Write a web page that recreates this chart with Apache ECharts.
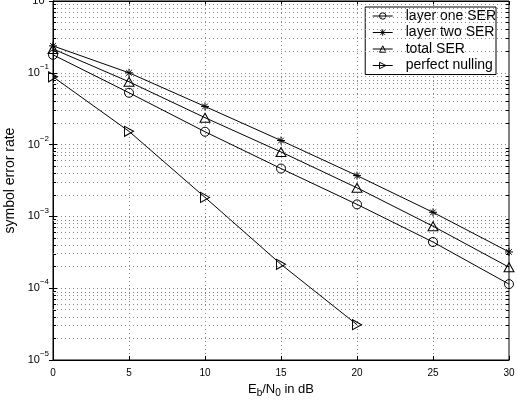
<!DOCTYPE html>
<html><head><meta charset="utf-8">
<script src="https://cdn.jsdelivr.net/npm/echarts@6/dist/echarts.min.js"></script>
<style>html,body{margin:0;padding:0;background:#fff}#c{width:518px;height:402px}</style>
</head><body><div id="c"></div>
<script>
const xs = [0, 5, 10, 15, 20, 25, 30];
const xsNulling = [0, 5, 10, 15, 20];
const layerOne = [0.178, 0.0527, 0.0151, 0.00464, 0.00147, 0.00044, 0.000114];
const layerTwo = [0.237, 0.100, 0.034, 0.0114, 0.0037, 0.00114, 0.00032];
const totalSER = [0.215, 0.075, 0.0237, 0.0079, 0.0025, 0.00073, 0.000196];
const nulling = [0.088, 0.0153, 0.00184, 0.000215, 0.000031];
const seriesNames = ['layer one SER', 'layer two SER', 'total SER', 'perfect nulling'];
const minorGrid = [];
for (let e = -5; e < 0; e++) for (let m = 2; m <= 9; m++) minorGrid.push(m * Math.pow(10, e));

const FONT = '"Liberation Sans", Arial, Helvetica, sans-serif';
const star = 'path://M0,-1 L0,1 M-1,0 L1,0 M-0.7,-0.7 L0.7,0.7 M-0.7,0.7 L0.7,-0.7';
const circle = 'path://M1,0 A1,1 0 1 1 -1,0 A1,1 0 1 1 1,0 Z';
const triUp = 'path://M0,-1 L0.87,0.5 L-0.87,0.5 Z';
const triRight = 'path://M1,0 L-0.5,-0.87 L-0.5,0.87 Z';
const dotted = {type: [1, 3], color: '#8a8a8a', width: 1};
const tickStyle = {color: '#000', width: 1};

function pairs(x, y) { return x.map((v, i) => [v, y[i]]); }
function mkSeries(name, x, y, symbol, extra) {
  return Object.assign({
    name, type: 'line', data: pairs(x, y), symbol, symbolSize: 9,
    lineStyle: {color: '#000', width: 1},
    itemStyle: {color: 'rgba(0,0,0,0)', borderColor: '#000', borderWidth: 1},
    emphasis: {disabled: true}, animation: false, z: 5
  }, extra || {});
}
const sup = {
  b: {fontSize: 11, fontFamily: FONT, color: '#000', lineHeight: 20, verticalAlign: 'middle'},
  s: {fontSize: 8, fontFamily: FONT, color: '#000', lineHeight: 8, verticalAlign: 'top'}
};

// minor grid lines and minor ticks (left & right), via a hidden linear log10 axis
const minorLines = minorGrid.map(v => ({yAxis: Math.log10(v)}));
const minorTicks = [];
minorGrid.forEach(v => {
  const l = Math.log10(v);
  minorTicks.push([{coord: [0, l]}, {coord: [0.2, l]}]);
  minorTicks.push([{coord: [29.8, l]}, {coord: [30, l]}]);
});

const chart = echarts.init(document.getElementById('c'), null, {renderer: 'canvas'});
chart.setOption({
  animation: false,
  backgroundColor: '#fff',
  grid: {left: 53, right: 9, top: 1, bottom: 42, show: true, borderColor: '#000', borderWidth: 1, containLabel: false, outerBoundsMode: 'none'},
  xAxis: [{
    type: 'value', min: 0, max: 30, interval: 5,
    axisLine: {show: true, onZero: false, lineStyle: {color: '#000', width: 1}},
    axisTick: {show: true, inside: true, length: 4, lineStyle: tickStyle},
    axisLabel: {fontSize: 10, fontFamily: FONT, color: '#000', margin: 8},
    splitLine: {show: true, lineStyle: dotted},
    name: '{n|E}{sub|b}{n|/N}{sub|0}{n| in dB}', nameLocation: 'middle', nameGap: 18,
    nameTextStyle: {rich: {n: {fontSize: 13, fontFamily: FONT, color: '#000'}, sub: {fontSize: 10, fontFamily: FONT, color: '#000', verticalAlign: 'top', padding: [8, 0, 0, 0]}}}
  }, {
    type: 'value', position: 'top', min: 0, max: 30, interval: 5,
    axisLine: {show: true, lineStyle: {color: '#000'}},
    axisTick: {show: true, inside: true, length: 4, lineStyle: tickStyle},
    axisLabel: {show: false}, splitLine: {show: false}
  }],
  yAxis: [{
    type: 'log', logBase: 10, min: 1e-5, max: 1,
    axisLine: {show: true, onZero: false, lineStyle: {color: '#000'}},
    axisTick: {show: true, inside: true, length: 4, lineStyle: tickStyle},
    axisLabel: {margin: 4, formatter: v => '{b|10}{s|' + String(Math.round(Math.log10(v))).replace('-', '\u2212') + '}', rich: sup},
    splitLine: {show: true, lineStyle: dotted},
    name: 'symbol error rate', nameLocation: 'middle', nameGap: 29,
    nameTextStyle: {fontSize: 14, fontFamily: FONT, color: '#000'}
  }, {
    type: 'log', logBase: 10, min: 1e-5, max: 1, position: 'right',
    axisLine: {show: true, lineStyle: {color: '#000'}},
    axisTick: {show: true, inside: true, length: 4, lineStyle: tickStyle},
    axisLabel: {show: false}, splitLine: {show: false}
  }, {
    type: 'value', min: -5, max: 0, show: false
  }],
  legend: {
    data: seriesNames, orient: 'vertical', right: 22, top: 7,
    backgroundColor: '#fff', borderColor: '#000', borderWidth: 1,
    padding: [2, 0, 2, 7], itemGap: 2.5, itemWidth: 20, itemHeight: 8,
    itemStyle: {borderWidth: 1}, lineStyle: {width: 1},
    textStyle: {fontSize: 14, fontFamily: FONT, color: '#000', lineHeight: 14, padding: [0, 0, 0, 8]},
    inactiveColor: '#000'
  },
  series: [
    mkSeries(seriesNames[0], xs, layerOne, circle, {symbolSize: 9}),
    mkSeries(seriesNames[1], xs, layerTwo, star, {symbolSize: 8}),
    mkSeries(seriesNames[2], xs, totalSER, triUp, {symbolSize: [10, 9]}),
    mkSeries(seriesNames[3], xsNulling, nulling, triRight, {symbolSize: [9, 10]}),
    {
      name: 'minorGrid', type: 'line', yAxisIndex: 2, data: [], silent: true, animation: false,
      markLine: {silent: true, symbol: 'none', label: {show: false}, lineStyle: dotted, animation: false,
        data: minorLines.concat(minorTicks.map(p => [Object.assign({lineStyle: {type: 'solid', color: '#000', width: 1}}, p[0]), p[1]]))}
    }
  ]
});
</script></body></html>
